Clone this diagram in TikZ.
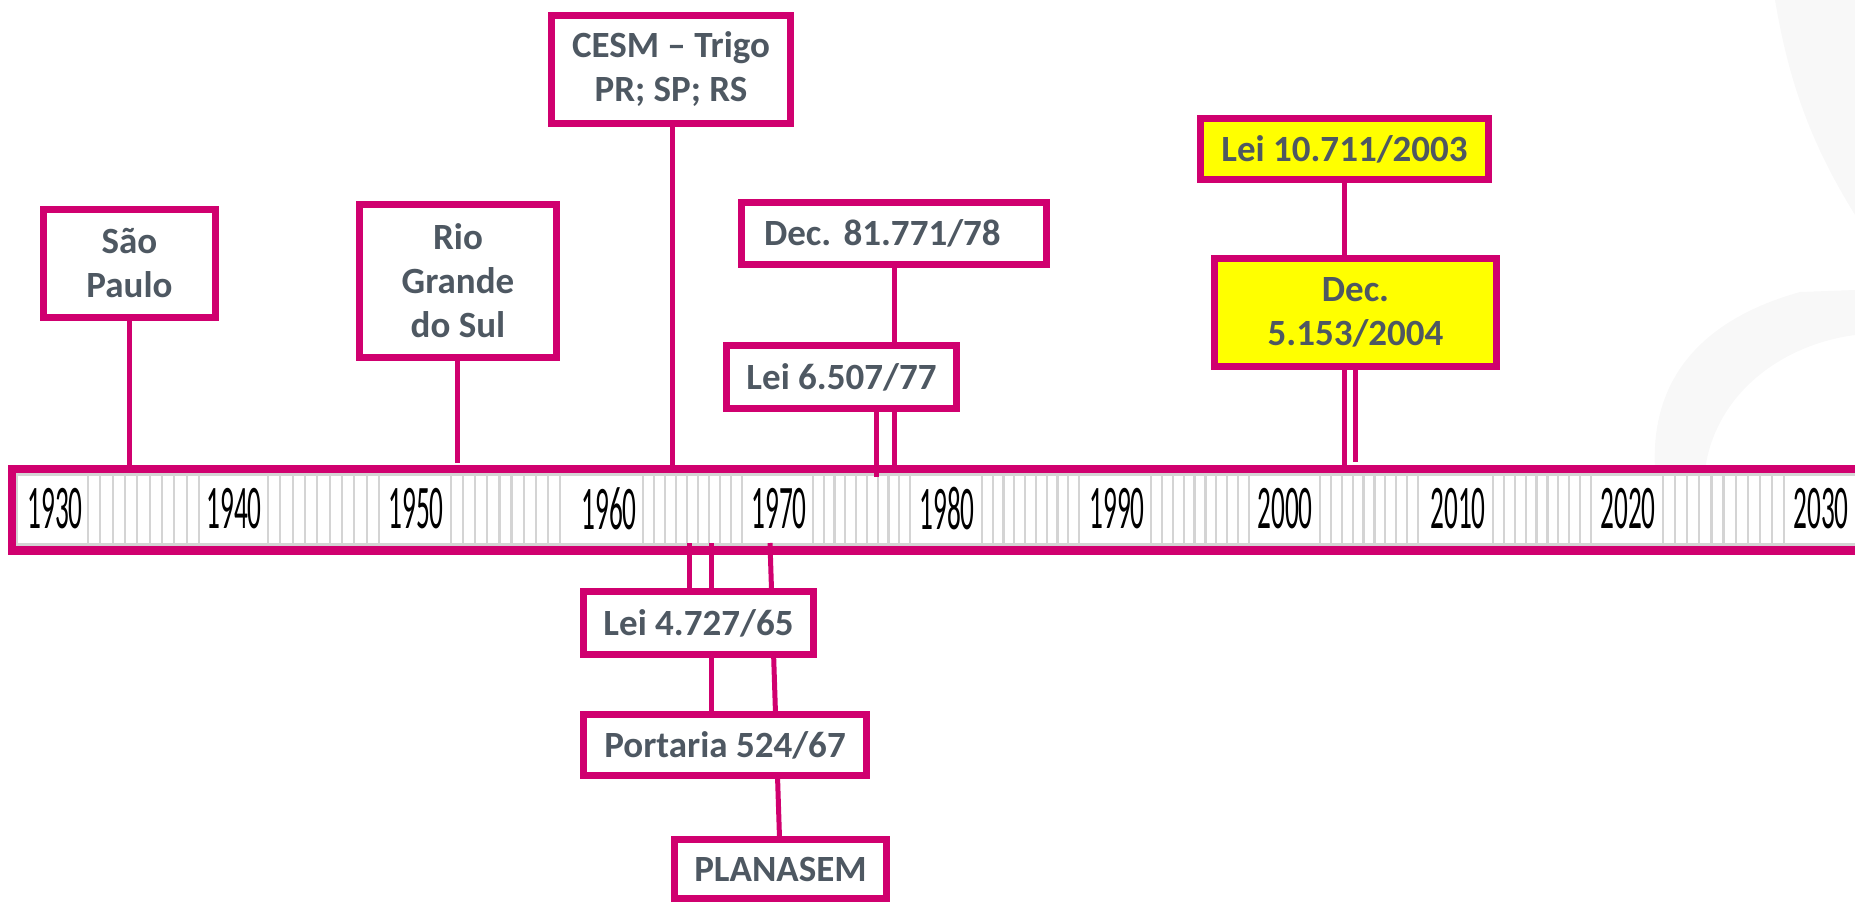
\documentclass[tikz,border=0pt]{standalone}
\usepackage{fontspec}
\setmainfont{Carlito}
\usetikzlibrary{positioning,backgrounds}
\definecolor{tlmag}{RGB}{208,0,111}
\definecolor{tltext}{RGB}{78,88,98}
\definecolor{tlgrid}{RGB}{212,212,212}
\definecolor{tlyellow}{RGB}{255,255,0}
\definecolor{tlwater}{RGB}{248,248,248}
\begin{document}
\begin{tikzpicture}[x=1pt, y=-1pt,
  box/.style={draw=tlmag, line width=7pt, fill=white, text=tltext, align=center, inner sep=0pt, font=\fontsize{37}{44}\selectfont\bfseries},
  hlbox/.style={box, fill=tlyellow},
  stem/.style={draw=tlmag, line width=5pt},
  yearlbl/.style={inner sep=0pt, font=\fontsize{62}{62}\selectfont},
  tick/.style={draw=tlgrid, line width=2.2pt}]
\useasboundingbox (0,0) rectangle (1855,902);
% boxes above the ruler
\node[box, minimum width=172, minimum height=108] (ev0) at (129.5,263.5){São\\Paulo};
\node[box, minimum width=197, minimum height=153] (ev1) at (458,281){Rio\\Grande\\do Sul};
\node[box, minimum width=239, minimum height=108] (ev2) at (671,69.5){CESM -- Trigo\\PR; SP; RS};
\node[box, minimum width=305, minimum height=62, text width=260, align=left] (ev3) at (894,233.5){Dec.\ 81.771/78};
\node[box, minimum width=230, minimum height=63] (ev4) at (841.5,377){Lei 6.507/77};
\node[hlbox, minimum width=288, minimum height=61] (ev5) at (1344.5,149){Lei 10.711/2003};
\node[hlbox, minimum width=282, minimum height=108] (ev6) at (1355.5,312.5){Dec.\\5.153/2004};
% boxes below the ruler
\node[box, minimum width=230, minimum height=63] (ev7) at (698.5,623){Lei 4.727/65};
\node[box, minimum width=283, minimum height=61] (ev8) at (725,745){Portaria 524/67};
\node[box, minimum width=212, minimum height=59] (ev9) at (780.5,869){PLANASEM};
\begin{pgfonlayer}{background}
% faint watermark
\fill[tlwater] (1775,0) .. controls (1790,90) and (1815,150) .. (1855,215) -- (1855,0) -- cycle;
\fill[tlwater] (1655,470) .. controls (1650,380) and (1700,320) .. (1800,292) -- (1855,290) -- (1855,335) .. controls (1780,345) and (1715,395) .. (1705,470) -- cycle;
% ruler
\fill[white] (12,469) rectangle (1870,550);
\foreach \ta/\tb/\tn in {88/199/9,268/379/9,451/560/9,643/742/9,813/910/9,982/1079/9,1151/1249/9,1320/1418/9,1493/1591/9,1663/1784/10}
  \foreach \k in {0,...,\tn}
    \draw[tick] ({\ta+\k*(\tb-\ta)/\tn},474) -- ({\ta+\k*(\tb-\ta)/\tn},546);
\draw[tlgrid, line width=2.5pt] (1870,474.5) -- (16.5,474.5) -- (16.5,544.5) -- (1870,544.5);
\draw[tlmag, line width=8.5pt] (1870,469) -- (12,469) -- (12,550.5) -- (1870,550.5);
\foreach \yr/\cx in {1930/55,1940/234,1950/416,1960/609,1970/779,1980/947,1990/1117,2000/1285,2010/1458,2020/1628,2030/1821}
  \node[yearlbl] (y\yr) at (\cx,508.5){\scalebox{0.44}[1]{\yr}};
% stems
\coordinate (b0) at (129,473);
\coordinate (b1) at (457,463);
\coordinate (b2) at (672,473);
\coordinate (b3) at (894,473);
\coordinate (b4) at (876,477);
\coordinate (b5) at (1344,473);
\coordinate (b6) at (1355,462);
\coordinate (b7) at (689,543);
\coordinate (b8) at (711,543);
\coordinate (b9) at (770,543);
\draw[stem](ev0.center -| b0) -- (b0);
\draw[stem](ev1.center -| b1) -- (b1);
\draw[stem](ev2.center -| b2) -- (b2);
\draw[stem](ev3.center -| b3) -- (b3);
\draw[stem](ev4.center -| b4) -- (b4);
\draw[stem](ev5.center -| b5) -- (b5);
\draw[stem](ev6.center -| b6) -- (b6);
\draw[stem](b7) -- (b7 |- ev7.center);
\draw[stem](b8) -- (b8 |- ev8.center);
\draw[stem](b9) -- (ev9.center);
\end{pgfonlayer}
\end{tikzpicture}
\end{document}
